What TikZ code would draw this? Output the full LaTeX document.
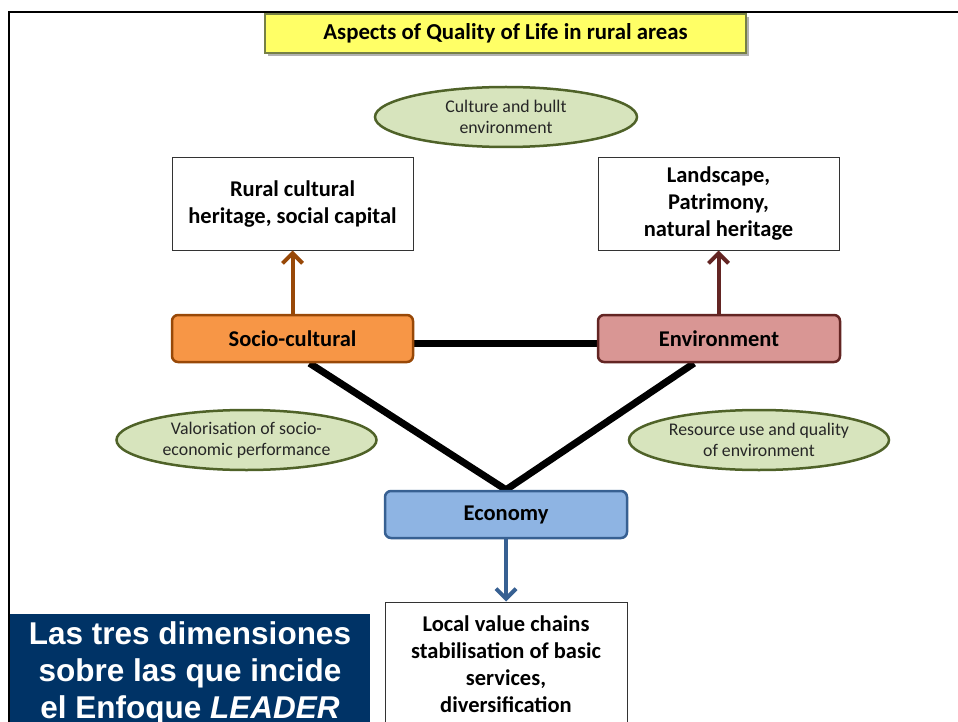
\documentclass[tikz,border=0pt]{standalone}
\usepackage{fontspec}
\setmainfont{Carlito}
\newfontfamily\arialfont{Liberation Sans}
\usetikzlibrary{arrows.meta,shapes.geometric,backgrounds}
\definecolor{titlefill}{RGB}{255,255,102}
\definecolor{titledraw}{RGB}{118,128,70}
\definecolor{elfill}{RGB}{215,228,189}
\definecolor{eldraw}{RGB}{79,98,40}
\definecolor{sofill}{RGB}{247,150,70}
\definecolor{sodraw}{RGB}{152,72,7}
\definecolor{enfill}{RGB}{217,150,148}
\definecolor{endraw}{RGB}{99,37,35}
\definecolor{ecfill}{RGB}{142,180,227}
\definecolor{ecdraw}{RGB}{55,96,146}
\definecolor{navy}{RGB}{0,51,102}
\tikzset{
  x=1pt, y=-1pt,
  boxtext/.style={font=\fontsize{22.5}{27}\selectfont\bfseries, align=center, inner sep=0pt},
  whitebox/.style={boxtext, draw=black!80, line width=1pt, fill=white, minimum width=241pt, minimum height=92pt},
  dimbox/.style={boxtext, rounded corners=6pt, line width=2.5pt, minimum width=241pt, minimum height=47pt},
  aspect/.style={ellipse, draw=eldraw, fill=elfill, line width=2.5pt, minimum width=260pt, minimum height=60pt, inner sep=0pt, align=center, font=\fontsize{17.8}{21}\selectfont, text=black!85},
  link/.style={line width=7pt, black},
  upar/.style={line width=4pt, -{Straight Barb[length=10pt,width=20pt,line width=4pt]}}
}
\begin{document}
\begin{tikzpicture}
\useasboundingbox (0,0) rectangle (958,722);
\clip (0,0) rectangle (958,722);

% title
\fill[black!30] (268,17) rectangle (749,56);
\node[draw=titledraw, fill=titlefill, line width=1.2pt, minimum width=481pt, minimum height=39pt, inner sep=0pt, font=\fontsize{22.8}{27}\selectfont\bfseries] (title) at (505.5,33.5) {Aspects of Quality of Life in rural areas};

% aspect ellipses
\node[aspect, minimum width=262pt] (culture) at (506,117) {Culture and bullt\\environment};
\node[aspect] (valor) at (246.5,440) {Valorisation of socio-\\economic performance};
\node[aspect] (resource) at (759,440) {Resource use and quality\\of environment};

% outcome boxes
\node[whitebox] (rural) at (292.5,204) {Rural cultural\\heritage, social capital};
\node[whitebox] (land) at (718.5,204) {Landscape,\\Patrimony,\\natural heritage};

% dimension boxes
\node[dimbox, draw=sodraw, fill=sofill] (socio) at (292.5,338.5) {Socio-cultural};
\node[dimbox, draw=endraw, fill=enfill, minimum width=242pt] (env) at (719,338.5) {Environment};
\node[dimbox, draw=ecdraw, fill=ecfill, minimum width=242pt] (eco) at (506,514.5) {Economy};

% bottom outcome box
\node[whitebox, minimum width=242pt, minimum height=124pt] (local) at (506,664) {Local value chains\\stabilisation of basic\\services,\\diversification};

% connectors between dimensions and frame
\begin{scope}[on background layer]
\fill[white] (0,0) rectangle (958,722);
\draw[line width=2.5pt] (9,12) rectangle (980,760);
\draw[link] ([yshift=-4.5pt]socio.east) -- ([yshift=-4.5pt]env.west);
\draw[link, line join=miter] ([xshift=17pt]socio.south) -- (eco.north) -- ([xshift=-25pt]env.south);
\end{scope}

% arrows
\draw[upar, sodraw] (socio.north) -- (rural.south);
\draw[upar, endraw] (env.north -| land.south) -- (land.south);
\draw[upar, ecdraw] (eco.south) -- (local.north);

% caption box
\node[fill=navy, text=white, minimum width=360pt, minimum height=118pt, inner sep=0pt, align=center, font=\arialfont\fontsize{31.5}{37}\selectfont\bfseries] (caption) at (190,673) {Las tres dimensiones\\sobre las que incide\\el Enfoque \textit{LEADER}};
\end{tikzpicture}
\end{document}
